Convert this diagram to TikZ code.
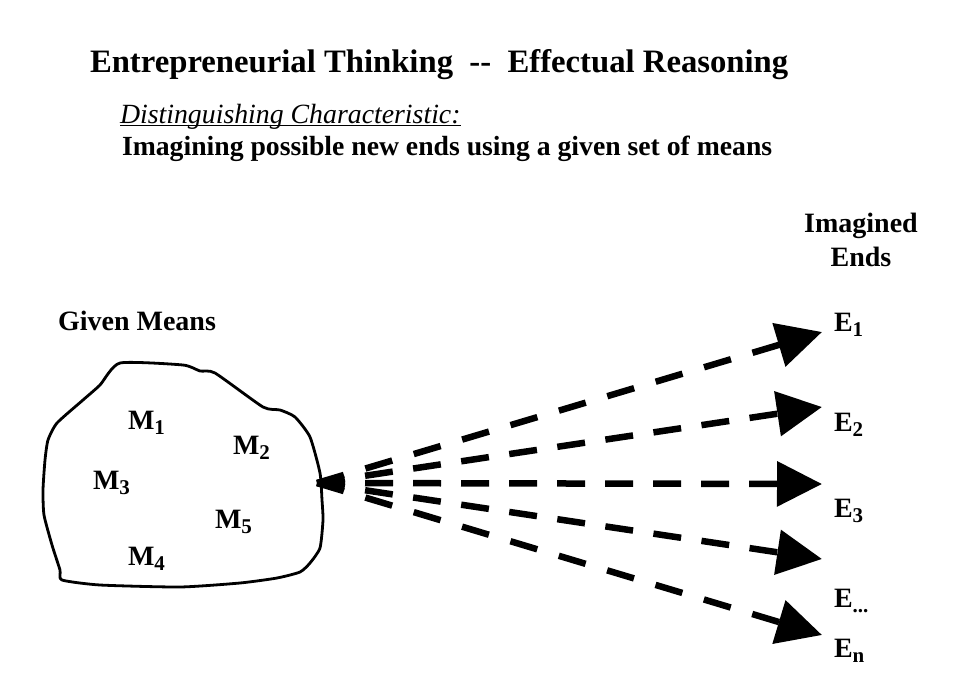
\documentclass[tikz,border=0pt]{standalone}
\usepackage{fontspec}
\setmainfont{Liberation Serif}
\usetikzlibrary{arrows.meta}
\newcommand\lowsub[1]{\raisebox{-5.5pt}{\fontsize{21}{21}\selectfont #1}}
\begin{document}
\begin{tikzpicture}[x=1pt,y=-1pt,
  txt/.style={inner sep=0pt,outer sep=0pt,anchor=base west,font=\bfseries\fontsize{28}{34}\selectfont},
  mtxt/.style={txt},
  etxt/.style={txt},
  ray/.style={line width=6.5pt,-{Triangle[length=45pt,width=44pt]}},
  blob/.style={line width=2.8pt,line join=round}]
\useasboundingbox (0,0) rectangle (958,688);
\fill[white] (0,0) rectangle (958,688);
\node[txt,font=\bfseries\fontsize{32.7}{38}\selectfont] (title) at (90,72) {Entrepreneurial Thinking\ \ -{}-\ \ Effectual Reasoning};
\node[txt,font=\itshape\fontsize{27.8}{34}\selectfont] (dc) at (120,123) {Distinguishing Characteristic:};
\draw[line width=1.3pt] ([yshift=-2.8pt]dc.base west) -- ([yshift=-2.8pt]dc.base east);
\node[txt,font=\bfseries\fontsize{27.7}{34}\selectfont] (sub) at (122,155) {Imagining possible new ends using a given set of means};
\node[txt,anchor=base,align=center] (ie) at (861,266) {Imagined\\Ends};
\node[txt] (gm) at (58,330) {Given Means};
\draw[blob] plot[smooth cycle,tension=0.35] coordinates {
 (120,363) (183,365) (200,371) (215,373) (263,407) (280,410) (295,417) (310,437)
 (320,473) (322,500) (323,520) (320,548) (310,563) (300,572) (277,578) (240,583)
 (180,587) (100,585) (62,580) (60,570) (52,545) (44,515) (43,490) (45,460)
 (48,440) (57,423) (83,400) (100,385)};
\node[mtxt] (m1) at (128,429) {M\lowsub{1}};
\node[mtxt] (m2) at (233,454) {M\lowsub{2}};
\node[mtxt] (m3) at (93,489) {M\lowsub{3}};
\node[mtxt] (m5) at (215,528) {M\lowsub{5}};
\node[mtxt] (m4) at (128,565) {M\lowsub{4}};
\coordinate (src) at (317,483);
\coordinate (t1) at (822,332);
\coordinate (t2) at (822,407);
\coordinate (t3) at (822,484);
\coordinate (t4) at (822,559);
\coordinate (t5) at (822,635);
\foreach \t/\off in {t1/22.5,t2/20.6,t3/20,t4/20.6,t5/22.5}
  \draw[ray,dash pattern=on 28pt off \off pt] (src) -- (\t);
\node[etxt] (e1) at (834,331) {E\lowsub{1}};
\node[etxt] (e2) at (834,431) {E\lowsub{2}};
\node[etxt] (e3) at (834,517) {E\lowsub{3}};
\node[etxt] (e4) at (834,607) {E\lowsub{...}};
\node[etxt] (e5) at (834,657) {E\lowsub{n}};
\end{tikzpicture}
\end{document}
